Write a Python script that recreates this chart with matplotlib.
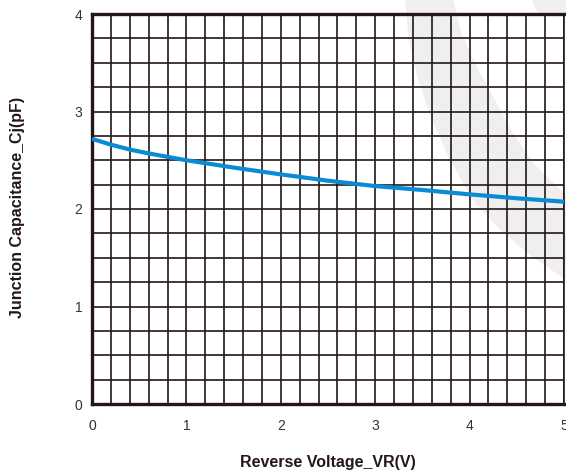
import numpy as np
import matplotlib
matplotlib.use('Agg')
import matplotlib.pyplot as plt
from matplotlib.patches import Polygon
from matplotlib.ticker import MultipleLocator

# 曲线数据
vr = [0.0, 0.2, 0.4, 0.6, 0.8, 1.0, 1.5, 2.0, 2.5, 3.0, 3.5, 4.0, 4.5, 5.0]
cj = [2.72, 2.66, 2.61, 2.57, 2.535, 2.50, 2.425, 2.355, 2.29, 2.235, 2.195, 2.15, 2.11, 2.075]

x_ticks = [0, 1, 2, 3, 4, 5]
y_ticks = [0, 1, 2, 3, 4]

ink = '#231815'
blue = '#0a8bd6'

plt.rcParams['font.family'] = ['Liberation Sans', 'DejaVu Sans']

W, H = 566, 472
fig = plt.figure(figsize=(W / 100, H / 100), dpi=100, facecolor='w')

# 背景水印 (浅灰色弧带)
left_edge = [(405, 0), (409, 40), (418, 80), (432, 120), (450, 160), (473, 200),
             (500, 230), (530, 255), (566, 280)]
right_edge = [(566, 195), (535, 165), (513, 133), (495, 100), (477, 67), (462, 35), (453, 0)]
pts = [(x / W, 1 - y / H) for x, y in left_edge + right_edge]
fig.patches.append(Polygon(pts, closed=True, transform=fig.transFigure,
                           facecolor='#efefef', edgecolor='none', zorder=-5))
corner = [(532, 0), (566, 0), (566, 14), (538, 14)]
fig.patches.append(Polygon([(x / W, 1 - y / H) for x, y in corner], closed=True,
                           transform=fig.transFigure, facecolor='#efefef',
                           edgecolor='none', zorder=-5))

ax = fig.add_axes([92 / W, 1 - 404 / H, (564 - 92) / W, (404 - 14) / H])
ax.set_facecolor('none')
ax.set_zorder(2)

ax.plot(vr, cj, color=blue, linewidth=3.0, solid_capstyle='butt', zorder=5)

ax.set_xlim(0, 5)
ax.set_ylim(0, 4)
ax.set_xticks(x_ticks)
ax.set_yticks(y_ticks)
ax.xaxis.set_minor_locator(MultipleLocator(0.2))
ax.yaxis.set_minor_locator(MultipleLocator(0.25))
ax.grid(True, which='both', color=ink, linewidth=1.2)
ax.set_axisbelow(True)

ax.tick_params(which='both', length=0)
ax.tick_params(axis='x', pad=11, labelsize=10, labelcolor='#333333')
ax.tick_params(axis='y', pad=7, labelsize=10, labelcolor='#333333')

for side in ['left', 'bottom', 'top']:
    ax.spines[side].set_linewidth(2.4)
    ax.spines[side].set_color(ink)
ax.spines['right'].set_linewidth(1.2)
ax.spines['right'].set_color(ink)

fig.text(328 / W, 1 - 462 / H, 'Reverse Voltage_VR(V)', ha='center', va='center',
         fontsize=11.5, fontweight='bold', color=ink)
fig.text(18 / W, 1 - 207 / H, 'Junction Capacitance_Cj(pF)', ha='center', va='center',
         rotation=90, fontsize=11.5, fontweight='bold', color=ink)

fig.savefig('out.png', dpi=100)
